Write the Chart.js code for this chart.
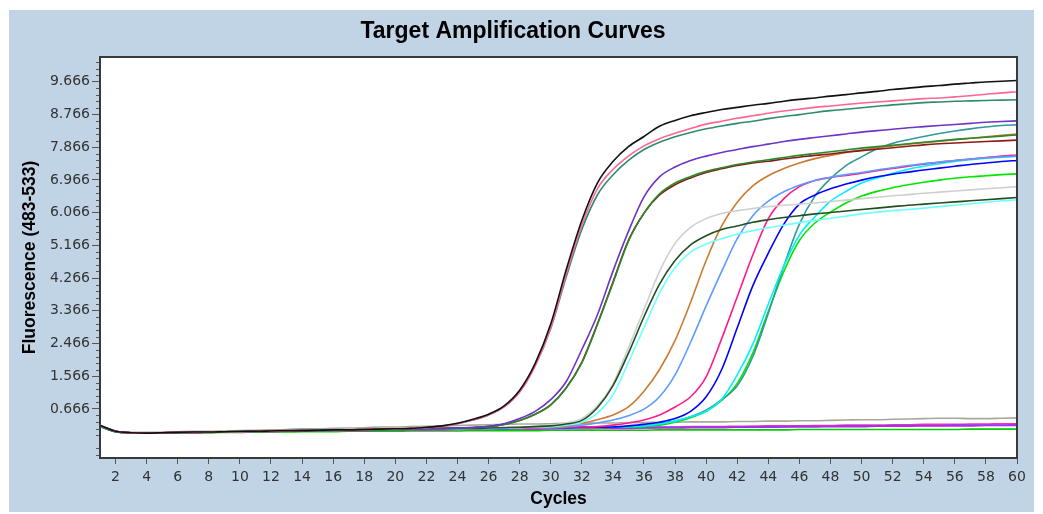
<!DOCTYPE html>
<html>
<head>
<meta charset="utf-8">
<title>Target Amplification Curves</title>
<script src="https://cdn.jsdelivr.net/npm/chart.js@4.4.1/dist/chart.umd.min.js"></script>
<style>
html, body { margin:0; padding:0; background:#ffffff; }
#frame { position:absolute; left:9px; top:10px; width:1025px; height:502px; background:#c1d4e5; }
canvas { display:block; }
</style>
</head>
<body>
<div id="frame"><canvas id="ampChart" width="1025" height="502"></canvas></div>
<script>

// ==========================================================
// Data (fluorescence per cycle)
// ==========================================================

const cycles = [
    1,2,3,4,5,6,7,8,9,10,11,12,13,14,15,16,17,18,19,20,
    21,22,23,24,25,26,27,28,29,30,31,32,33,34,35,36,37,38,39,40,
    41,42,43,44,45,46,47,48,49,50,51,52,53,54,55,56,57,58,59,60
];

const xTicks = [2,4,6,8,10,12,14,16,18,20,22,24,26,28,30,32,34,36,38,40,42,44,46,48,50,52,54,56,58,60];

const yTickLabels = ["0.666","1.566","2.466","3.366","4.266","5.166","6.066","6.966","7.866","8.766","9.666"];

const blackCurve = [
    0.21,0.05,0.01,0.00,0.01,0.02,0.03,0.03,0.04,0.05,
    0.05,0.06,0.07,0.07,0.08,0.09,0.09,0.10,0.11,0.12,
    0.13,0.16,0.20,0.27,0.38,0.52,0.75,1.18,1.92,3.00,
    4.50,5.85,6.88,7.47,7.88,8.16,8.44,8.60,8.73,8.82,
    8.90,8.96,9.02,9.07,9.13,9.18,9.22,9.27,9.31,9.36,
    9.40,9.45,9.49,9.53,9.56,9.60,9.63,9.66,9.68,9.70
];

const salmonCurve = [
    0.20,0.05,0.00,0.00,0.01,0.02,0.02,0.03,0.04,0.04,
    0.05,0.06,0.06,0.07,0.08,0.08,0.09,0.10,0.11,0.11,
    0.13,0.15,0.19,0.26,0.36,0.50,0.72,1.13,1.85,2.90,
    4.38,5.72,6.72,7.25,7.62,7.90,8.10,8.25,8.38,8.50,
    8.58,8.66,8.73,8.80,8.86,8.91,8.96,9.00,9.04,9.08,
    9.11,9.14,9.17,9.20,9.22,9.25,9.28,9.32,9.36,9.39
];

const seaGreenCurve = [
    0.19,0.04,0.00,0.00,0.01,0.01,0.02,0.03,0.03,0.04,
    0.05,0.05,0.06,0.07,0.07,0.08,0.09,0.09,0.10,0.11,
    0.12,0.15,0.19,0.26,0.36,0.50,0.73,1.14,1.86,2.88,
    4.30,5.60,6.55,7.10,7.50,7.80,8.00,8.15,8.27,8.37,
    8.45,8.52,8.58,8.65,8.71,8.76,8.82,8.87,8.91,8.95,
    8.99,9.03,9.06,9.09,9.11,9.13,9.14,9.15,9.16,9.17
];

const violetCurve = [
    0.20,0.05,0.01,0.00,0.01,0.02,0.02,0.03,0.04,0.04,
    0.05,0.06,0.06,0.07,0.08,0.08,0.09,0.09,0.10,0.11,
    0.11,0.12,0.13,0.14,0.16,0.19,0.26,0.40,0.60,0.92,
    1.42,2.30,3.25,4.45,5.55,6.50,7.05,7.32,7.50,7.62,
    7.72,7.80,7.88,7.95,8.02,8.08,8.13,8.18,8.23,8.28,
    8.32,8.36,8.40,8.43,8.46,8.49,8.52,8.55,8.57,8.59
];

const maroonCurve = [
    0.20,0.05,0.00,0.00,0.01,0.01,0.02,0.03,0.03,0.04,
    0.05,0.05,0.06,0.07,0.07,0.08,0.09,0.09,0.10,0.10,
    0.11,0.12,0.13,0.14,0.15,0.18,0.24,0.35,0.52,0.78,
    1.25,1.95,3.00,4.15,5.30,6.05,6.55,6.83,7.02,7.17,
    7.27,7.36,7.43,7.48,7.54,7.59,7.64,7.68,7.73,7.77,
    7.81,7.85,7.89,7.93,7.96,7.98,8.00,8.02,8.04,8.06
];

const forestCurve = [
    0.19,0.04,0.00,0.00,0.01,0.01,0.02,0.02,0.03,0.04,
    0.04,0.05,0.06,0.06,0.07,0.08,0.08,0.09,0.10,0.10,
    0.11,0.12,0.13,0.14,0.15,0.18,0.24,0.35,0.52,0.78,
    1.24,1.93,2.98,4.12,5.28,6.05,6.58,6.88,7.06,7.20,
    7.30,7.39,7.46,7.52,7.58,7.64,7.69,7.74,7.79,7.84,
    7.88,7.92,7.96,8.00,8.04,8.08,8.11,8.14,8.17,8.20
];

const darkGreenCurve = [
    0.20,0.05,0.01,0.00,0.01,0.02,0.02,0.03,0.04,0.04,
    0.05,0.06,0.06,0.07,0.08,0.08,0.09,0.10,0.10,0.11,
    0.11,0.12,0.12,0.13,0.13,0.14,0.15,0.16,0.18,0.20,
    0.25,0.35,0.70,1.30,2.20,3.20,4.10,4.75,5.18,5.43,
    5.60,5.70,5.80,5.87,5.93,5.98,6.03,6.07,6.11,6.15,
    6.19,6.23,6.27,6.30,6.33,6.36,6.39,6.42,6.45,6.48
];

const lightGrayCurve = [
    0.21,0.06,0.01,0.01,0.02,0.02,0.03,0.04,0.04,0.05,
    0.06,0.06,0.07,0.08,0.08,0.09,0.10,0.10,0.11,0.12,
    0.12,0.13,0.13,0.14,0.14,0.15,0.16,0.17,0.19,0.22,
    0.28,0.40,0.75,1.35,2.35,3.40,4.45,5.22,5.66,5.90,
    6.04,6.12,6.18,6.23,6.27,6.30,6.33,6.37,6.41,6.45,
    6.49,6.53,6.56,6.60,6.63,6.66,6.69,6.72,6.75,6.78
];

const lightCyanCurve = [
    0.19,0.04,0.00,0.00,0.01,0.01,0.02,0.03,0.03,0.04,
    0.05,0.05,0.06,0.07,0.07,0.08,0.09,0.09,0.10,0.10,
    0.11,0.11,0.12,0.12,0.13,0.13,0.14,0.15,0.17,0.18,
    0.22,0.30,0.55,1.05,1.95,2.90,3.85,4.55,4.98,5.20,
    5.35,5.47,5.57,5.65,5.72,5.79,5.85,5.91,5.97,6.03,
    6.08,6.12,6.15,6.19,6.23,6.27,6.31,6.35,6.39,6.42
];

const peruCurve = [
    0.20,0.05,0.00,0.00,0.01,0.02,0.02,0.03,0.04,0.04,
    0.05,0.06,0.06,0.07,0.08,0.08,0.09,0.10,0.10,0.11,
    0.11,0.12,0.12,0.13,0.13,0.14,0.14,0.15,0.15,0.17,
    0.20,0.27,0.37,0.50,0.72,1.15,1.75,2.55,3.60,4.75,
    5.70,6.35,6.80,7.08,7.28,7.43,7.55,7.64,7.72,7.79,
    7.85,7.90,7.95,7.99,8.03,8.07,8.11,8.15,8.19,8.23
];

const cornflowerCurve = [
    0.19,0.05,0.00,0.00,0.01,0.01,0.02,0.03,0.03,0.04,
    0.05,0.05,0.06,0.07,0.07,0.08,0.09,0.09,0.10,0.10,
    0.11,0.11,0.12,0.12,0.13,0.13,0.13,0.14,0.14,0.15,
    0.18,0.22,0.28,0.36,0.48,0.66,1.00,1.60,2.50,3.50,
    4.45,5.35,5.98,6.38,6.64,6.82,6.95,7.04,7.11,7.17,
    7.24,7.30,7.36,7.41,7.46,7.50,7.54,7.57,7.60,7.62
];

const deepPinkCurve = [
    0.20,0.05,0.01,0.00,0.01,0.02,0.02,0.03,0.04,0.04,
    0.05,0.06,0.06,0.07,0.08,0.08,0.09,0.10,0.10,0.11,
    0.11,0.12,0.12,0.13,0.13,0.14,0.14,0.14,0.15,0.15,
    0.16,0.17,0.18,0.22,0.28,0.36,0.50,0.72,1.00,1.55,
    2.60,3.75,4.90,5.90,6.45,6.78,6.95,7.03,7.09,7.15,
    7.22,7.28,7.34,7.40,7.45,7.50,7.54,7.58,7.62,7.65
];

const blueCurve = [
    0.19,0.04,0.00,0.00,0.01,0.01,0.02,0.03,0.03,0.04,
    0.05,0.05,0.06,0.07,0.07,0.08,0.09,0.09,0.10,0.10,
    0.11,0.11,0.12,0.12,0.13,0.13,0.13,0.14,0.14,0.15,
    0.15,0.16,0.16,0.17,0.20,0.24,0.30,0.40,0.60,1.00,
    1.75,2.90,4.05,4.95,5.75,6.30,6.55,6.72,6.85,6.96,
    7.05,7.12,7.18,7.24,7.29,7.34,7.39,7.43,7.47,7.50
];

const cyanCurve = [
    0.20,0.05,0.00,0.00,0.01,0.02,0.02,0.03,0.04,0.04,
    0.05,0.06,0.06,0.07,0.08,0.08,0.09,0.10,0.10,0.11,
    0.11,0.12,0.12,0.13,0.13,0.13,0.14,0.14,0.15,0.15,
    0.15,0.16,0.16,0.17,0.18,0.20,0.25,0.33,0.45,0.60,
    0.93,1.60,2.45,3.55,4.60,5.45,5.95,6.38,6.65,6.88,
    7.02,7.15,7.26,7.34,7.41,7.47,7.52,7.56,7.59,7.62
];

const limeCurve = [
    0.18,0.04,0.00,0.00,0.00,0.01,0.02,0.02,0.03,0.04,
    0.04,0.05,0.06,0.06,0.07,0.07,0.08,0.09,0.09,0.10,
    0.10,0.11,0.11,0.12,0.12,0.12,0.13,0.13,0.14,0.14,
    0.14,0.15,0.15,0.16,0.16,0.18,0.22,0.30,0.42,0.60,
    0.90,1.37,2.20,3.35,4.45,5.30,5.78,6.08,6.33,6.52,
    6.65,6.75,6.83,6.90,6.96,7.01,7.05,7.08,7.11,7.13
];

const tealCurve = [
    0.19,0.05,0.00,0.00,0.01,0.01,0.02,0.03,0.03,0.04,
    0.05,0.05,0.06,0.07,0.07,0.08,0.08,0.09,0.10,0.10,
    0.11,0.11,0.12,0.12,0.13,0.13,0.13,0.14,0.14,0.15,
    0.15,0.15,0.16,0.16,0.17,0.20,0.25,0.33,0.45,0.63,
    0.92,1.30,2.10,3.30,4.60,5.75,6.52,7.00,7.36,7.60,
    7.82,7.97,8.07,8.16,8.24,8.31,8.37,8.42,8.46,8.48
];

// flat (no amplification) wells

const oliveFlat = [
    0.22,0.06,0.02,0.02,0.03,0.04,0.05,0.05,0.06,0.07,
    0.08,0.09,0.10,0.12,0.12,0.13,0.14,0.15,0.17,0.17,
    0.18,0.19,0.20,0.21,0.22,0.23,0.24,0.25,0.25,0.26,
    0.27,0.27,0.28,0.28,0.29,0.29,0.30,0.30,0.31,0.31,
    0.31,0.32,0.32,0.33,0.33,0.34,0.34,0.35,0.36,0.37,
    0.37,0.38,0.39,0.40,0.41,0.41,0.40,0.40,0.41,0.42
];

const purpleFlat = [
    0.20,0.05,0.01,0.00,0.01,0.02,0.02,0.03,0.04,0.04,
    0.05,0.05,0.06,0.06,0.07,0.07,0.08,0.08,0.09,0.09,
    0.10,0.10,0.11,0.11,0.12,0.12,0.12,0.13,0.13,0.13,
    0.14,0.14,0.14,0.15,0.15,0.15,0.16,0.16,0.16,0.17,
    0.17,0.17,0.18,0.18,0.18,0.19,0.19,0.19,0.20,0.20,
    0.20,0.21,0.21,0.21,0.21,0.22,0.22,0.22,0.22,0.23
];

const pinkFlat = [
    0.20,0.05,0.00,0.00,0.01,0.01,0.02,0.03,0.03,0.04,
    0.04,0.05,0.06,0.06,0.07,0.07,0.08,0.08,0.09,0.10,
    0.10,0.11,0.11,0.11,0.12,0.12,0.13,0.13,0.14,0.14,
    0.14,0.15,0.15,0.16,0.16,0.16,0.17,0.17,0.18,0.18,
    0.18,0.19,0.19,0.20,0.20,0.20,0.21,0.21,0.22,0.22,
    0.22,0.23,0.23,0.24,0.24,0.24,0.25,0.25,0.26,0.26
];

const magentaFlat = [
    0.19,0.05,0.00,0.00,0.01,0.01,0.02,0.02,0.03,0.03,
    0.04,0.04,0.05,0.05,0.06,0.06,0.07,0.07,0.08,0.08,
    0.08,0.09,0.09,0.10,0.10,0.10,0.11,0.11,0.11,0.12,
    0.12,0.12,0.13,0.13,0.13,0.14,0.14,0.14,0.15,0.15,
    0.15,0.16,0.16,0.16,0.17,0.17,0.17,0.18,0.18,0.18,
    0.19,0.19,0.19,0.20,0.20,0.20,0.20,0.21,0.21,0.21
];

const greenFlat = [
    0.18,0.04,0.00,0.00,0.00,0.01,0.01,0.02,0.02,0.02,
    0.03,0.03,0.03,0.04,0.04,0.04,0.05,0.05,0.05,0.05,
    0.06,0.06,0.06,0.06,0.07,0.07,0.07,0.07,0.07,0.08,
    0.08,0.08,0.08,0.08,0.08,0.08,0.09,0.09,0.09,0.09,
    0.09,0.09,0.09,0.09,0.09,0.10,0.10,0.10,0.10,0.10,
    0.10,0.10,0.10,0.10,0.10,0.10,0.11,0.11,0.11,0.11
];

// ==========================================================
// Series list (first one is drawn on top)
// ==========================================================

const seriesList = [
    { data: blackCurve,      color: "#111111" },
    { data: salmonCurve,     color: "#ff6690" },
    { data: seaGreenCurve,   color: "#2e8b70" },
    { data: violetCurve,     color: "#6a35c8" },
    { data: forestCurve,     color: "#2a8a2a" },
    { data: maroonCurve,     color: "#8b1a1a" },
    { data: darkGreenCurve,  color: "#214f21" },
    { data: lightGrayCurve,  color: "#cfcfcf" },
    { data: lightCyanCurve,  color: "#70ffff" },
    { data: peruCurve,       color: "#cc7a33" },
    { data: cornflowerCurve, color: "#5c9cff" },
    { data: deepPinkCurve,   color: "#ff1a8c" },
    { data: blueCurve,       color: "#0000ff" },
    { data: cyanCurve,       color: "#00f0ff" },
    { data: tealCurve,       color: "#339999" },
    { data: limeCurve,       color: "#00e600" },
    { data: oliveFlat,       color: "#a8a898" },
    { data: purpleFlat,      color: "#9933ff" },
    { data: pinkFlat,        color: "#ff3399" },
    { data: magentaFlat,     color: "#cc22cc" },
    { data: greenFlat,       color: "#00cc00" }
];

// ==========================================================
// Plugins
// ==========================================================

const plotFrame = {

    id: "plotFrame",

    beforeDatasetsDraw(chart){

        const a = chart.chartArea;
        const ctx = chart.ctx;

        ctx.save();
        ctx.fillStyle = "#ffffff";
        ctx.fillRect(a.left, a.top, a.right - a.left, a.bottom - a.top);
        ctx.restore();

    },

    afterDraw(chart){

        const a = chart.chartArea;
        const ctx = chart.ctx;
        const y = chart.scales.y;

        ctx.save();

        // minor ticks on the fluorescence axis
        const step = (parseFloat(yTickLabels[1]) - parseFloat(yTickLabels[0])) / 5;
        const base = parseFloat(yTickLabels[0]);

        ctx.strokeStyle = "#555555";
        ctx.lineWidth = 1;

        for (let k = -10; k <= 60; k++){

            if (k % 5 === 0) continue;

            const v = base + k * step;

            if (v < y.min || v > y.max) continue;

            const py = Math.round(y.getPixelForValue(v)) + 0.5;

            ctx.beginPath();
            ctx.moveTo(a.left - 4, py);
            ctx.lineTo(a.left, py);
            ctx.stroke();

        }

        // frame round the plot
        ctx.strokeStyle = "#3a3a3a";
        ctx.lineWidth = 2;
        ctx.strokeRect(a.left, a.top, a.right - a.left, a.bottom - a.top);

        ctx.restore();

    }

};

// ==========================================================
// Chart
// ==========================================================

function createAmplificationChart(){

    const canvas = document.getElementById("ampChart");

    const ctx = canvas.getContext("2d");

    const datasets = seriesList.map(s => ({

        data: cycles.map((c, i) => ({ x: c, y: s.data[i] })),

        borderColor: s.color,

        backgroundColor: s.color,

        borderWidth: 1.6,

        pointRadius: 0,

        cubicInterpolationMode: "monotone",

        fill: false

    }));

    new Chart(ctx, {

        type: "line",

        data: { datasets },

        options: {

            responsive: false,

            animation: false,

            devicePixelRatio: 1,

            layout: { padding: { left: 0, right: 17, top: 0, bottom: 0 } },

            plugins: {

                legend: { display: false },

                tooltip: { enabled: false },

                title: {
                    display: true,
                    text: "Target Amplification Curves",
                    color: "#000000",
                    font: { family: "Liberation Sans", size: 23, weight: "bold", lineHeight: 1.2 },
                    padding: { top: 8.2, bottom: 11.2 }
                }

            },

            scales: {

                x: {
                    type: "linear",
                    min: 1,
                    max: 60,
                    afterBuildTicks: axis => { axis.ticks = xTicks.map(v => ({ value: v })); },
                    afterFit: axis => { axis.height = 54; },
                    ticks: {
                        autoSkip: false,
                        maxRotation: 0,
                        padding: 5,
                        color: "#333333",
                        font: { family: "DejaVu Sans", size: 14 }
                    },
                    grid: { drawOnChartArea: false, tickLength: 6, tickColor: "#555555" },
                    border: { display: false },
                    title: {
                        display: true,
                        text: "Cycles",
                        color: "#000000",
                        font: { family: "Liberation Sans", size: 17.5, weight: "bold", lineHeight: 1.2 },
                        padding: { top: 0, bottom: 2.5 }
                    }
                },

                y: {
                    type: "linear",
                    min: -0.684,
                    max: 10.346,
                    afterBuildTicks: axis => { axis.ticks = yTickLabels.map(t => ({ value: parseFloat(t) })); },
                    afterFit: axis => { axis.width = 91; },
                    ticks: {
                        padding: 2,
                        color: "#333333",
                        font: { family: "DejaVu Sans", size: 14 },
                        callback: (v, i) => yTickLabels[i]
                    },
                    grid: { drawOnChartArea: false, tickLength: 8, tickColor: "#555555" },
                    border: { display: false },
                    title: {
                        display: true,
                        text: "Fluorescence (483-533)",
                        color: "#000000",
                        font: { family: "Liberation Sans", size: 17.5, weight: "bold", lineHeight: 1.2 },
                        padding: { top: 10.5, bottom: 0 }
                    }
                }

            }

        },

        plugins: [plotFrame]

    });

}

createAmplificationChart();

</script>
</body>
</html>
